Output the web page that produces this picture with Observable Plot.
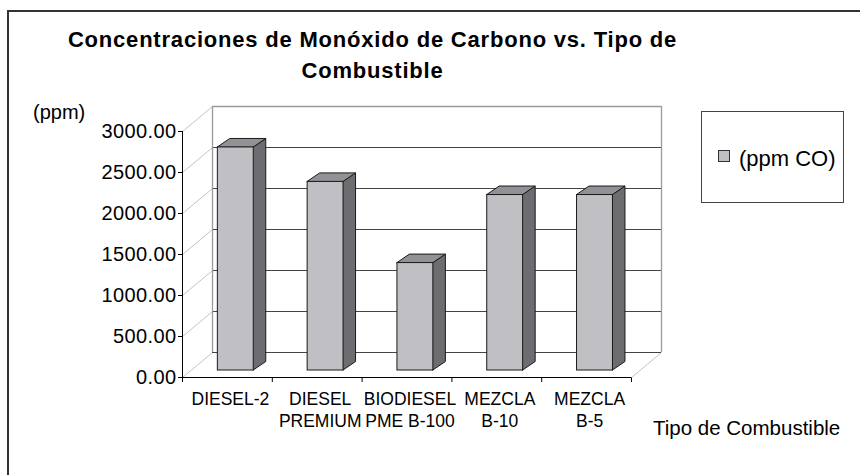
<!DOCTYPE html>
<html><head><meta charset="utf-8">
<script src="https://cdn.jsdelivr.net/npm/d3@7"></script>
<script src="https://cdn.jsdelivr.net/npm/@observablehq/plot@0.6"></script>
<style>
body{margin:0;background:#fff;font-family:"Liberation Sans",Arial,sans-serif;color:#000;width:860px;height:475px;overflow:hidden;position:relative}
.abs{position:absolute;white-space:nowrap}
#frame{left:7px;top:10px;width:900px;height:500px;border-left:2px solid #333;border-top:2px solid #333}
#title{left:0;top:24px;width:745px;text-align:center;font-weight:bold;font-size:22px;line-height:31px;letter-spacing:0.8px}
#ylab{left:33px;top:102px;font-size:20px;line-height:20px}
#legend{left:701px;top:111px;width:141px;height:90px;border:1.5px solid #444}
#sw{left:718px;top:150px;width:10px;height:10px;border:1px solid #333;background:#c0c0c4}
#legtxt{left:739px;top:148px;font-size:22px;line-height:22px}
#xlab{left:653px;top:418px;font-size:20.5px;line-height:20.5px}
#chart{left:0;top:90px}
#chart [aria-label^="y-axis"] text{letter-spacing:0.4px}
</style></head><body>
<div id="frame" class="abs"></div>
<div id="chart" class="abs"></div>
<div id="title" class="abs">Concentraciones de Monóxido de Carbono vs. Tipo de<br>Combustible</div>
<div id="ylab" class="abs">(ppm)</div>
<div id="legend" class="abs"></div>
<div id="sw" class="abs"></div>
<div id="legtxt" class="abs">(ppm CO)</div>
<div id="xlab" class="abs">Tipo de Combustible</div>
<script>
const categories = ["DIESEL-2", "DIESEL\nPREMIUM", "BIODIESEL\nPME B-100", "MEZCLA\nB-10", "MEZCLA\nB-5"];
const values = [2720, 2300, 1310, 2140, 2140];
const yTicks = [0, 500, 1000, 1500, 2000, 2500, 3000];
const yMax = 3000;

// layout (px)
const W = 860, H = 385, ML = 182, MR = 229, MT = 41, MB = 98;
const n = categories.length;
const kx = (W - ML - MR) / n;        // px per category unit
const ky = (H - MT - MB) / yMax;     // px per ppm
// 3D depth offsets converted to data units
const DX = 30 / kx, DY = 25 / ky;    // back wall
const ZX = 8.4 / kx, ZY = 7 / ky;    // bar front plane
const BX = 12.5 / kx, BY = 8.5 / ky; // bar depth
const L = 0.3, R = 0.7;              // bar extent within category

const idx = d3.range(n);
const frontFaces = idx.map(i => ({i, x1: i + L + ZX, x2: i + R + ZX, y1: ZY, y2: values[i] + ZY}));
const sideFaces = idx.flatMap(i => [
  {i, x: i + R + ZX, y1: ZY, y2: values[i] + ZY},
  {i, x: i + R + ZX + BX, y1: ZY + BY, y2: values[i] + ZY + BY}
]);
const topFaces = idx.flatMap(i => [
  {i, y: values[i] + ZY, x1: i + L + ZX, x2: i + R + ZX},
  {i, y: values[i] + ZY + BY, x1: i + L + ZX + BX, x2: i + R + ZX + BX}
]);

const chart = Plot.plot({
  width: W, height: H,
  marginLeft: ML, marginRight: MR, marginTop: MT, marginBottom: MB,
  style: {fontFamily: '"Liberation Sans", Arial, sans-serif', fontSize: "20px", color: "#000", background: "transparent", overflow: "visible"},
  x: {domain: [0, n], ticks: d3.range(n + 1), tickFormat: () => "", tickSize: 5, label: null},
  y: {domain: [0, yMax], ticks: yTicks, tickFormat: d3.format(".2f"), tickSize: 4, tickPadding: 2, label: null},
  marks: [
    // left side wall diagonals
    Plot.link(yTicks, {x1: 0, y1: t => t, x2: DX, y2: t => t + DY, stroke: "#c4c4c4", strokeWidth: 1}),
    Plot.link([0], {x1: n, y1: 0, x2: n + DX, y2: DY, stroke: "#c4c4c4", strokeWidth: 1}),
    // back wall gridlines
    Plot.ruleY(yTicks.filter(t => t < yMax), {y: t => t + DY, x1: DX, x2: n + DX, stroke: "#444", strokeWidth: 1}),
    Plot.ruleY([yMax], {y: t => t + DY, x1: DX, x2: n + DX, stroke: "#9a9a9a", strokeWidth: 1.3}),
    Plot.ruleX([DX, n + DX], {y1: DY, y2: yMax + DY, stroke: "#9a9a9a", strokeWidth: 1.3}),
    // axes lines
    Plot.ruleX([0], {y1: 0, y2: yMax, stroke: "#000"}),
    Plot.ruleY([0], {x1: 0, x2: n, stroke: "#000"}),
    // bars
    Plot.areaY(sideFaces, {x: "x", y1: "y1", y2: "y2", z: "i", fill: "#6d6d71", stroke: "#1a1a1a", strokeWidth: 1}),
    Plot.areaX(topFaces, {y: "y", x1: "x1", x2: "x2", z: "i", fill: "#929296", stroke: "#1a1a1a", strokeWidth: 1}),
    Plot.rect(frontFaces, {x1: "x1", x2: "x2", y1: "y1", y2: "y2", fill: "#c0c0c4", stroke: "#1a1a1a", strokeWidth: 1}),
    // category labels
    Plot.text(categories, {x: (d, i) => i + 0.5, y: 0, text: d => d, lineAnchor: "top", dy: 12, dx: 3, fontSize: 17.5, lineHeight: 1.24, fill: "#000"})
  ]
});
document.getElementById("chart").appendChild(chart);
</script>
</body></html>
